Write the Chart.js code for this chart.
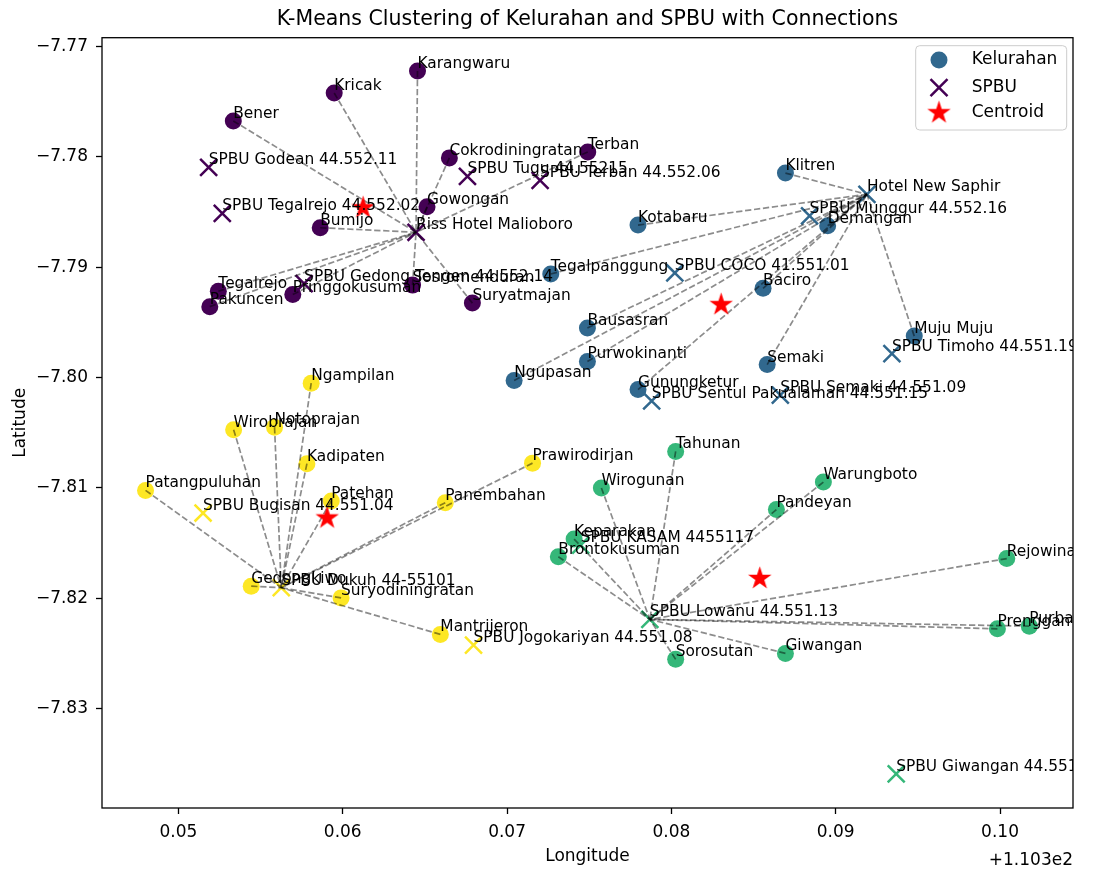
<!DOCTYPE html>
<html>
<head>
<meta charset="utf-8">
<script src="https://cdn.jsdelivr.net/npm/chart.js@4.4.1/dist/chart.umd.min.js"></script>
<style>
  html, body { margin: 0; padding: 0; background: #fff; }
  #wrap { width: 1120px; height: 869px; }
</style>
</head>
<body>
<div id="wrap"><canvas id="chart" width="1120" height="869"></canvas></div>
<script>
// viridis, one colour per cluster
const CLUSTER_COLORS = ['#440154', '#31688e', '#35b779', '#fde725'];
const FONT = "'DejaVu Sans', sans-serif";

// kelurahan (longitude shown as offset from 110.3)
const kelNames = [
  'Karangwaru', 'Kricak', 'Bener', 'Cokrodiningratan', 'Terban', 'Gowongan', 'Bumijo',
  'Tegalrejo', 'Pakuncen', 'Pringgokusuman', 'Sosromenduran', 'Suryatmajan',
  'Klitren', 'Kotabaru', 'Demangan', 'Tegalpanggung', 'Baciro', 'Bausasran',
  'Purwokinanti', 'Ngupasan', 'Gunungketur', 'Semaki', 'Muju Muju',
  'Tahunan', 'Wirogunan', 'Warungboto', 'Pandeyan', 'Keparakan', 'Brontokusuman',
  'Rejowinangun', 'Sorosutan', 'Giwangan', 'Prenggan', 'Purbayan',
  'Ngampilan', 'Wirobrajan', 'Notoprajan', 'Kadipaten', 'Patangpuluhan', 'Patehan',
  'Prawirodirjan', 'Panembahan', 'Gedongkiwo', 'Suryodiningratan', 'Mantrijeron'
];
const kelLon = [
  0.06455, 0.05948, 0.05334, 0.06649, 0.07491, 0.06513, 0.05863,
  0.05243, 0.05191, 0.05696, 0.06425, 0.06789,
  0.08694, 0.07797, 0.08951, 0.07266, 0.08558, 0.07489,
  0.07489, 0.07043, 0.07797, 0.08583, 0.09478,
  0.08026, 0.07574, 0.08925, 0.08639, 0.07408, 0.07312,
  0.10041, 0.08026, 0.08694, 0.09984, 0.10178,
  0.05808, 0.05336, 0.05585, 0.05782, 0.04800, 0.05930,
  0.07155, 0.06624, 0.05443, 0.05990, 0.06594
];
const kelLat = [
  -7.77222, -7.77421, -7.77674, -7.78009, -7.77955, -7.78452, -7.78642,
  -7.79217, -7.79357, -7.79248, -7.79162, -7.79325,
  -7.78147, -7.78618, -7.78624, -7.79061, -7.79191, -7.79550,
  -7.79854, -7.80026, -7.80108, -7.79882, -7.79624,
  -7.80669, -7.81000, -7.80947, -7.81196, -7.81463, -7.81623,
  -7.81640, -7.82553, -7.82499, -7.82276, -7.82252,
  -7.80051, -7.80472, -7.80449, -7.80780, -7.81022, -7.81118,
  -7.80775, -7.81133, -7.81890, -7.81996, -7.82327
];
const kelCluster = [
  0, 0, 0, 0, 0, 0, 0, 0, 0, 0, 0, 0,
  1, 1, 1, 1, 1, 1, 1, 1, 1, 1, 1,
  2, 2, 2, 2, 2, 2, 2, 2, 2, 2, 2,
  3, 3, 3, 3, 3, 3, 3, 3, 3, 3, 3
];

// SPBU / hotel points
const spbuNames = [
  'SPBU Godean 44.552.11', 'SPBU Tegalrejo 44.552.02', 'SPBU Tugu 44.55215',
  'SPBU Terban 44.552.06', 'Riss Hotel Malioboro', 'SPBU Gedong Tengen 44.552.14',
  'Hotel New Saphir', 'SPBU Munggur 44.552.16', 'SPBU COCO 41.551.01',
  'SPBU Sentul Pakualaman 44.551.15', 'SPBU Semaki 44.551.09', 'SPBU Timoho 44.551.19',
  'SPBU Bugisan 44.551.04', 'SPBU Dukuh 44-55101', 'SPBU Jogokariyan 44.551.08',
  'SPBU KASAM 4455117', 'SPBU Lowanu 44.551.13', 'SPBU Giwangan 44.551.11'
];
const spbuLon = [
  0.05184, 0.05267, 0.06759, 0.07201, 0.06446, 0.05765,
  0.09190, 0.08841, 0.08021, 0.07880, 0.08663, 0.09342,
  0.05150, 0.05626, 0.06796, 0.07448, 0.07869, 0.09368
];
const spbuLat = [
  -7.78095, -7.78511, -7.78176, -7.78212, -7.78683, -7.79149,
  -7.78339, -7.78534, -7.79052, -7.80212, -7.80158, -7.79782,
  -7.81227, -7.81904, -7.82424, -7.81519, -7.82191, -7.83591
];
const spbuCluster = [0, 0, 0, 0, 0, 0, 1, 1, 1, 1, 1, 1, 3, 3, 3, 2, 2, 2];

// every kelurahan of a cluster is linked to this SPBU
const hubIndex = [4, 6, 16, 13];

const centroidLon = [0.06124, 0.08303, 0.08538, 0.05905];
const centroidLat = [-7.78461, -7.79339, -7.81820, -7.81272];

const xTicks = [0.05, 0.06, 0.07, 0.08, 0.09, 0.10];
const yTicks = [-7.77, -7.78, -7.79, -7.80, -7.81, -7.82, -7.83];
const X_MIN = 0.04535, X_MAX = 0.10444;
const Y_MIN = -7.8390, Y_MAX = -7.7692;

// filled five-point star used as the centroid marker
function makeStar(r, color) {
  const size = Math.ceil(r * 2) + 2;
  const c = document.createElement('canvas');
  c.width = c.height = size;
  const g = c.getContext('2d');
  const cx = size / 2, cy = size / 2;
  g.beginPath();
  for (let k = 0; k < 10; k++) {
    const rr = k % 2 ? r * 0.381966 : r;
    const a = -Math.PI / 2 + k * Math.PI / 5;
    g.lineTo(cx + rr * Math.cos(a), cy + rr * Math.sin(a));
  }
  g.closePath();
  g.fillStyle = color;
  g.fill();
  return c;
}
const starImg = makeStar(12.3, '#ff0000');

// dashed kelurahan -> hub links
const links = kelNames.map((n, i) => {
  const h = hubIndex[kelCluster[i]];
  return {
    data: [{ x: kelLon[i], y: kelLat[i] }, { x: spbuLon[h], y: spbuLat[h] }],
    showLine: true,
    pointRadius: 0,
    pointHoverRadius: 0,
    borderColor: 'rgba(0,0,0,0.45)',
    borderWidth: 1.7,
    borderDash: [6.3, 2.7],
    order: 1
  };
});

// frame around the plot + point names
const annotations = {
  id: 'annotations',
  afterDatasetsDraw(chart) {
    const { ctx, chartArea: a, scales: { x, y } } = chart;
    ctx.save();
    ctx.strokeStyle = '#000';
    ctx.lineWidth = 1.3;
    ctx.strokeRect(a.left, a.top, a.right - a.left, a.bottom - a.top);

    ctx.beginPath();
    ctx.rect(a.left, a.top, a.right - a.left, a.bottom - a.top);
    ctx.clip();
    ctx.fillStyle = '#000';
    ctx.font = '15.4px ' + FONT;
    ctx.textAlign = 'left';
    ctx.textBaseline = 'alphabetic';
    kelNames.forEach((n, i) => {
      ctx.fillText(n, x.getPixelForValue(kelLon[i]), y.getPixelForValue(kelLat[i]) - 3);
    });
    spbuNames.forEach((n, i) => {
      ctx.fillText(n, x.getPixelForValue(spbuLon[i]), y.getPixelForValue(spbuLat[i]) - 3);
    });
    ctx.restore();

    // axis offset text
    ctx.save();
    ctx.fillStyle = '#000';
    ctx.font = '17px ' + FONT;
    ctx.textAlign = 'right';
    ctx.textBaseline = 'middle';
    ctx.fillText('+1.103e2', a.right, 861);
    ctx.restore();
  }
};

// legend box inside the top-right corner
const insideLegend = {
  id: 'insideLegend',
  afterDraw(chart) {
    const { ctx, chartArea: a } = chart;
    const w = 151, h = 84.3;
    const left = a.right - 157.3, top = a.top + 8;
    ctx.save();
    ctx.beginPath();
    if (ctx.roundRect) ctx.roundRect(left, top, w, h, 4);
    else ctx.rect(left, top, w, h);
    ctx.fillStyle = 'rgba(255,255,255,0.8)';
    ctx.fill();
    ctx.strokeStyle = '#cccccc';
    ctx.lineWidth = 1;
    ctx.stroke();

    const mx = left + 23.3;
    const rows = [top + 14.3, top + 42, top + 67];

    ctx.beginPath();
    ctx.arc(mx, rows[0], 8.5, 0, Math.PI * 2);
    ctx.fillStyle = CLUSTER_COLORS[1];
    ctx.fill();

    ctx.beginPath();
    ctx.moveTo(mx - 8.5, rows[1] - 8.5); ctx.lineTo(mx + 8.5, rows[1] + 8.5);
    ctx.moveTo(mx + 8.5, rows[1] - 8.5); ctx.lineTo(mx - 8.5, rows[1] + 8.5);
    ctx.strokeStyle = CLUSTER_COLORS[0];
    ctx.lineWidth = 2.5;
    ctx.stroke();

    ctx.drawImage(starImg, mx - starImg.width / 2, rows[2] - starImg.height / 2);

    ctx.fillStyle = '#000';
    ctx.font = '17px ' + FONT;
    ctx.textAlign = 'left';
    ctx.textBaseline = 'middle';
    ['Kelurahan', 'SPBU', 'Centroid'].forEach((t, i) => ctx.fillText(t, left + 56, rows[i]));
    ctx.restore();
  }
};

new Chart(document.getElementById('chart'), {
  type: 'scatter',
  data: {
    datasets: [
      {
        label: 'Centroid',
        data: centroidLon.map((x, i) => ({ x, y: centroidLat[i] })),
        pointStyle: starImg,
        pointRadius: 12,
        order: 0
      },
      ...links,
      {
        label: 'SPBU',
        data: spbuLon.map((x, i) => ({ x, y: spbuLat[i] })),
        pointStyle: 'crossRot',
        pointRadius: 12,
        pointHoverRadius: 12,
        borderColor: spbuCluster.map(c => CLUSTER_COLORS[c]),
        borderWidth: 2.5,
        order: 2
      },
      {
        label: 'Kelurahan',
        data: kelLon.map((x, i) => ({ x, y: kelLat[i] })),
        pointStyle: 'circle',
        pointRadius: 8.5,
        pointHoverRadius: 8.5,
        backgroundColor: kelCluster.map(c => CLUSTER_COLORS[c]),
        borderWidth: 0,
        order: 3
      }
    ]
  },
  options: {
    responsive: false,
    animation: false,
    devicePixelRatio: 1,
    layout: { padding: { left: 0, right: 47, top: 0, bottom: 0 } },
    plugins: {
      legend: { display: false },
      tooltip: { enabled: false },
      title: {
        display: true,
        fullSize: false,
        text: 'K-Means Clustering of Kelurahan and SPBU with Connections',
        color: '#000',
        font: { family: FONT, size: 20.5, weight: 'normal' },
        padding: { top: 7.5, bottom: 5.6 }
      }
    },
    scales: {
      x: {
        type: 'linear',
        min: X_MIN,
        max: X_MAX,
        afterBuildTicks: s => { s.ticks = xTicks.map(v => ({ value: v })); },
        afterFit: s => { s.height = 61; },
        ticks: {
          callback: v => v.toFixed(2),
          color: '#000',
          font: { family: FONT, size: 17 },
          padding: 8,
          maxRotation: 0,
          autoSkip: false
        },
        grid: { drawOnChartArea: false, drawTicks: true, tickLength: 6, tickWidth: 1.3, tickColor: '#000' },
        border: { display: false },
        title: {
          display: true,
          text: 'Longitude',
          color: '#000',
          font: { family: FONT, size: 17 },
          padding: { top: 0, bottom: 2 }
        }
      },
      y: {
        type: 'linear',
        min: Y_MIN,
        max: Y_MAX,
        afterBuildTicks: s => { s.ticks = yTicks.map(v => ({ value: v })); },
        afterFit: s => { s.width = 102; },
        ticks: {
          callback: v => '\u2212' + Math.abs(v).toFixed(2),
          color: '#000',
          font: { family: FONT, size: 17 },
          padding: 8,
          autoSkip: false
        },
        grid: { drawOnChartArea: false, drawTicks: true, tickLength: 6, tickWidth: 1.3, tickColor: '#000' },
        border: { display: false },
        title: {
          display: true,
          text: 'Latitude',
          color: '#000',
          font: { family: FONT, size: 17 },
          padding: { top: 10, bottom: 0 }
        }
      }
    }
  },
  plugins: [annotations, insideLegend]
});
</script>
</body>
</html>
